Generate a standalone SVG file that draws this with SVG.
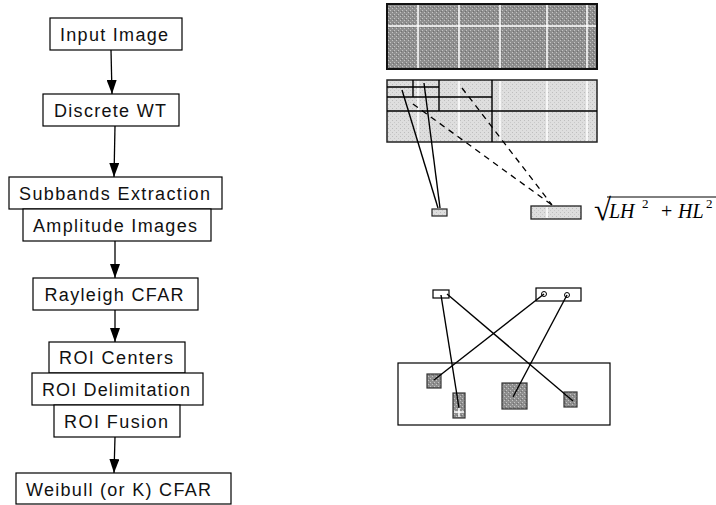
<svg xmlns="http://www.w3.org/2000/svg" width="716" height="505" viewBox="0 0 716 505">
<style>
.box{fill:#fff;stroke:#000;stroke-width:1.2}
.lbl{font-family:"Liberation Sans",Arial,sans-serif;font-size:18px;fill:#111;text-anchor:middle}
.arr{stroke:#000;stroke-width:1.3;fill:none;marker-end:url(#ah)}
.ln{stroke:#000;stroke-width:1.4;fill:none}
.dash{stroke:#000;stroke-width:1.3;fill:none;stroke-dasharray:6 5}
.wl{stroke:#fff;stroke-width:1.5}
.math{font-family:"Liberation Serif","Times New Roman",serif;font-style:italic;font-size:20px;fill:#000}
.sup{font-family:"Liberation Serif","Times New Roman",serif;font-size:13px;fill:#000}
</style>
<defs>
<marker id="ah" markerWidth="14" markerHeight="10" refX="14" refY="5" orient="auto" markerUnits="userSpaceOnUse" viewBox="0 0 14 10">
<path d="M0,0 L14,5 L0,10 Z" fill="#000"/>
</marker>
<pattern id="dk" width="4" height="4" patternUnits="userSpaceOnUse">
<rect width="4" height="4" fill="#8e8e8e"/>
<rect x="0" y="0" width="1" height="1" fill="#c4c4c4"/>
<rect x="2" y="2" width="1" height="1" fill="#c4c4c4"/>
<rect x="1" y="3" width="1" height="1" fill="#707070"/>
</pattern>
<pattern id="lt" width="4" height="4" patternUnits="userSpaceOnUse">
<rect width="4" height="4" fill="#dedede"/>
<rect x="0" y="0" width="1" height="1" fill="#bdbdbd"/>
<rect x="2" y="2" width="1" height="1" fill="#c8c8c8"/>
</pattern>
</defs>

<g id="n-input"><rect class="box" x="50" y="18" width="132" height="32"/><text class="lbl" x="114" y="40.5" textLength="108" lengthAdjust="spacing">Input Image</text></g>
<g id="n-dwt"><rect class="box" x="43" y="94" width="136" height="32"/><text class="lbl" x="110" y="116.5" textLength="112" lengthAdjust="spacing">Discrete WT</text></g>
<g id="n-subbands"><rect class="box" x="9" y="177" width="213" height="32"/><text class="lbl" x="114.5" y="199.5" textLength="191" lengthAdjust="spacing">Subbands Extraction</text></g>
<g id="n-amplitude"><rect class="box" x="23" y="209" width="188" height="32"/><text class="lbl" x="115" y="231.5" textLength="164" lengthAdjust="spacing">Amplitude Images</text></g>
<g id="n-rayleigh"><rect class="box" x="33" y="278" width="165" height="32"/><text class="lbl" x="114" y="300.5" textLength="139" lengthAdjust="spacing">Rayleigh CFAR</text></g>
<g id="n-centers"><rect class="box" x="49" y="342" width="136" height="31"/><text class="lbl" x="116" y="364" textLength="114" lengthAdjust="spacing">ROI Centers</text></g>
<g id="n-delim"><rect class="box" x="32" y="373" width="171" height="32"/><text class="lbl" x="116" y="395.5" textLength="148" lengthAdjust="spacing">ROI Delimitation</text></g>
<g id="n-fusion"><rect class="box" x="54" y="405" width="126" height="32"/><text class="lbl" x="116" y="427.5" textLength="104" lengthAdjust="spacing">ROI Fusion</text></g>
<g id="n-weibull"><rect class="box" x="16" y="473" width="215" height="31"/><text class="lbl" x="118.5" y="495.5" textLength="185" lengthAdjust="spacing">Weibull (or K) CFAR</text></g>

<g id="n-topgrid">
<rect x="387" y="4" width="210" height="65" fill="url(#dk)" stroke="#111" stroke-width="2"/>
<path class="wl" d="M418,5V68M459,5V68M500,5V68M547,5V68M587,5V68M388,26H596"/>
</g>
<g id="n-subgrid">
<rect x="387" y="80" width="210" height="62" fill="url(#lt)" stroke="#222" stroke-width="1.5"/>
<path class="wl" d="M418,81V141M459,81V141M500,81V141M547,81V141M587,81V141"/>
<path class="ln" d="M387,111H597M492,80V142M387,97H492M439,80V111M387,87H439M413,80V97"/>
</g>
<g id="n-small1"><rect x="432" y="209" width="15" height="7" fill="url(#lt)" stroke="#222" stroke-width="1.2"/></g>
<g id="n-small2"><rect x="531" y="206" width="50" height="13" fill="url(#lt)" stroke="#222" stroke-width="1.3"/><line class="wl" x1="547" y1="207" x2="547" y2="218"/></g>
<g id="n-formula">
<text x="594" y="220" font-family="'Liberation Serif','Times New Roman',serif" font-size="31">√</text>
<line x1="607" y1="197" x2="716" y2="197" stroke="#000" stroke-width="1"/>
<text class="math" x="609" y="218">LH</text>
<text class="sup" x="642" y="208">2</text>
<text x="661" y="218" font-family="'Liberation Serif','Times New Roman',serif" font-size="20">+</text>
<text class="math" x="678" y="218">HL</text>
<text class="sup" x="706" y="208">2</text>
</g>

<g id="n-roibox1"><rect x="433" y="290" width="16" height="8" fill="#fff" stroke="#000" stroke-width="1.2"/></g>
<g id="n-roibox2"><rect x="536" y="288" width="45" height="13" fill="#fff" stroke="#000" stroke-width="1.2"/>
<circle cx="544" cy="294" r="2.5" fill="#fff" stroke="#000" stroke-width="1"/>
<circle cx="567" cy="295" r="2.5" fill="#fff" stroke="#000" stroke-width="1"/></g>
<g id="n-scene">
<rect x="398" y="363" width="212" height="62" fill="#fff" stroke="#000" stroke-width="1.2"/>
<rect x="427" y="374" width="14" height="14" fill="url(#dk)" stroke="#333" stroke-width="1.2"/>
<rect x="453" y="393" width="12" height="25" fill="url(#dk)" stroke="#333" stroke-width="1.2"/>
<path class="wl" d="M454,412H464M459,407V417"/>
<rect x="502" y="383" width="25" height="26" fill="url(#dk)" stroke="#333" stroke-width="1.2"/>
<rect x="564" y="392" width="13" height="15" fill="url(#dk)" stroke="#333" stroke-width="1.2"/>
</g>

<g id="connectors">
<line class="arr" x1="111" y1="50" x2="112" y2="94"/>
<line class="arr" x1="115" y1="126" x2="114" y2="177"/>
<line class="arr" x1="115" y1="241" x2="115" y2="278"/>
<line class="arr" x1="115" y1="310" x2="115" y2="342"/>
<line class="arr" x1="115" y1="437" x2="114" y2="473"/>
<line class="ln" x1="402" y1="90" x2="438" y2="208"/>
<line class="ln" x1="424" y1="83" x2="440" y2="208"/>
<line class="dash" x1="413" y1="104" x2="552" y2="205"/>
<line class="dash" x1="462" y1="88" x2="552" y2="205"/>
<line class="ln" x1="441" y1="295" x2="459" y2="408"/>
<line class="ln" x1="447" y1="294" x2="573" y2="401"/>
<line class="ln" x1="544" y1="294" x2="434" y2="380"/>
<line class="ln" x1="567" y1="295" x2="513" y2="397"/>
</g>
</svg>
